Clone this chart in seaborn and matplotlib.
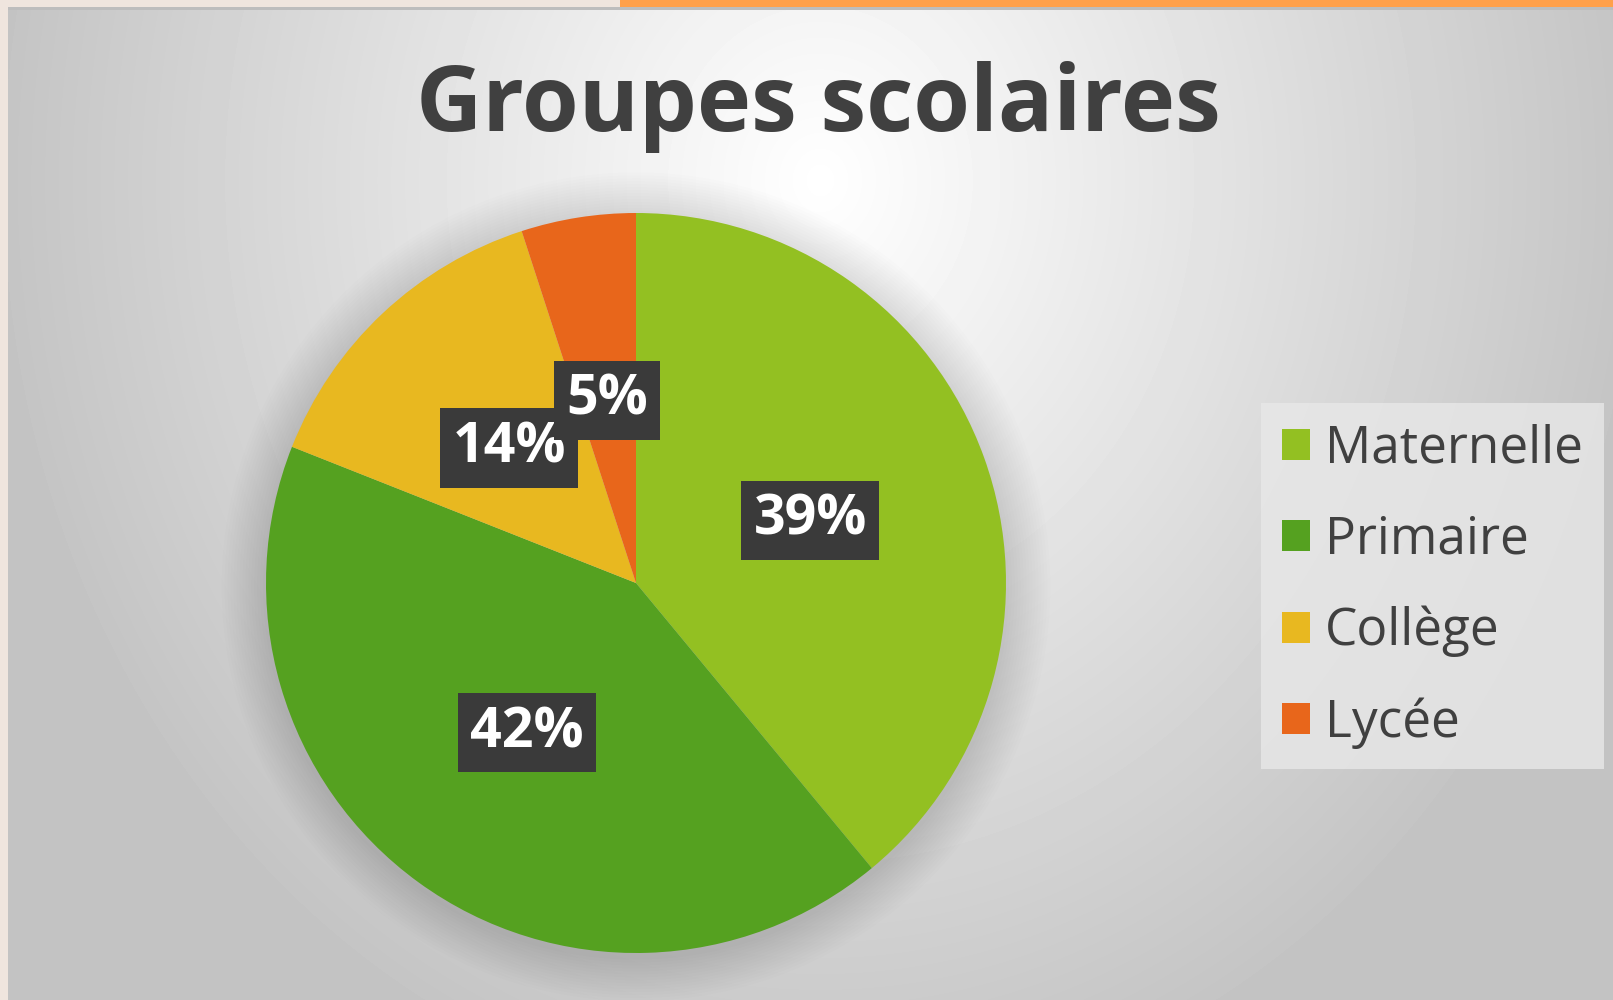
"""Groupes scolaires - pie chart"""
import numpy as np
import matplotlib
matplotlib.use("Agg")
import matplotlib.pyplot as plt
from matplotlib.patches import Rectangle, Circle
import seaborn as sns

# data
categories = ["Maternelle", "Primaire", "Collège", "Lycée"]
shares = [39, 42, 14, 5]
colors = ["#93C022", "#55A120", "#E8B820", "#E8661B"]
title = "Groupes scolaires"

sns.set_theme(style="white")
plt.rcParams['font.family'] = ['Open Sans', 'DejaVu Sans']

W, H = 1613, 1000
fig = plt.figure(figsize=(W / 100, H / 100), dpi=100)
fig.patch.set_facecolor("#EFE5DE")

# radial gradient background of the slide area
bg = fig.add_axes([8 / W, 0, 1 - 8 / W, 990 / H])
yy, xx = np.mgrid[0:990, 0:1605]
t = np.sqrt(((xx - 812) / 820.0) ** 2 + ((yy - 170) / 940.0) ** 2)
t = np.clip(t, 0, 1)
shade = 1.0 - (1.0 - 196 / 255) * t
bg.imshow(shade, cmap="gray", vmin=0, vmax=1, aspect="auto", interpolation="bilinear")
bg.set_axis_off()

# orange bar on top right
fig.patches.append(Rectangle((620 / W, 993 / H), 1, 7 / H, transform=fig.transFigure,
                             facecolor="#FFA04A", edgecolor="none", zorder=5))
fig.patches.append(Rectangle((8 / W, 990 / H), 1, 3 / H, transform=fig.transFigure,
                             facecolor="#BDBDBD", edgecolor="none", zorder=5))

# pie
ax = fig.add_axes([266 / W, 47 / H, 740 / W, 740 / H])
# soft shadow around the pie
for k in range(15):
    ax.add_patch(Circle((0.0, -0.01), 1.0 + 0.008 * (15 - k), facecolor="black",
                        alpha=0.008, edgecolor="none", zorder=0, clip_on=False))
wedges, texts, autotexts = ax.pie(
    shares,
    colors=colors,
    startangle=90,
    counterclock=False,
    autopct=lambda p: f"{p:.0f}%",
    pctdistance=0.5,
    wedgeprops=dict(linewidth=0),
    textprops=dict(color="white", fontsize=40, fontweight="bold"),
)
for i, txt in enumerate(autotexts):
    txt.set_bbox(dict(boxstyle="square,pad=0.22", facecolor="#3A3A3A", edgecolor="none"))
    txt.set_zorder(10 + i)
ax.set_xlim(-1, 1)
ax.set_ylim(-1, 1)
ax.set_axis_off()

fig.text(818 / W, 1 - 131 / H, title, ha="center", va="baseline",
         fontsize=66, fontweight="bold", color="#404040")

leg = fig.legend(wedges, categories, loc="upper left",
                 bbox_to_anchor=(1261 / W, 1 - 403 / H),
                 fontsize=37, frameon=True, fancybox=False,
                 handlelength=0.55, handleheight=0.55, handletextpad=0.3,
                 labelspacing=0.78, borderpad=0.4, borderaxespad=0)
leg.get_frame().set_facecolor("#E8E8E8")
leg.get_frame().set_edgecolor("none")
leg.get_frame().set_alpha(0.8)
for txt in leg.get_texts():
    txt.set_color("#404040")

fig.savefig("out.png", dpi=100)
